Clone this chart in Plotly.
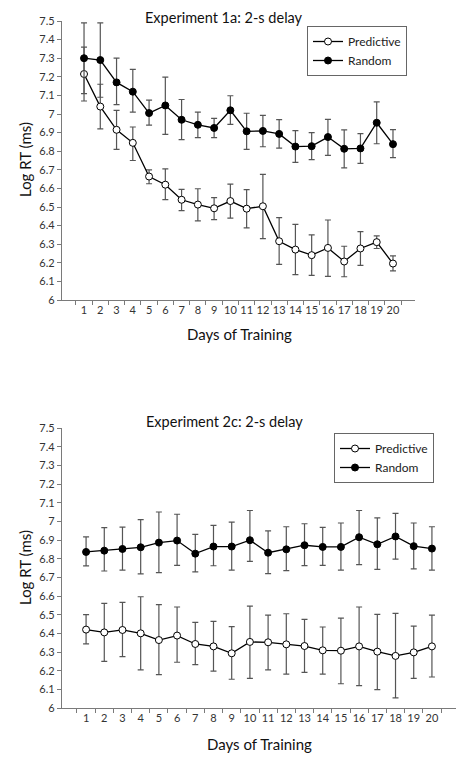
import plotly.graph_objects as go

days = [str(d) for d in range(1, 21)]
y_ticks = [round(6 + 0.1 * i, 1) for i in range(16)]

# Experiment 1a: 2-s delay
exp1_pred_mean = [7.215, 7.04, 6.915, 6.845, 6.664, 6.62, 6.539, 6.513, 6.493, 6.532,
                  6.491, 6.504, 6.316, 6.271, 6.241, 6.28, 6.207, 6.277, 6.311, 6.196]
exp1_pred_upper = [7.36, 7.16, 7.02, 6.93, 6.70, 6.705, 6.595, 6.598, 6.55, 6.623,
                   6.593, 6.675, 6.443, 6.407, 6.35, 6.43, 6.289, 6.368, 6.345, 6.2375]
exp1_pred_lower = [7.07, 6.92, 6.81, 6.75, 6.625, 6.54, 6.48, 6.425, 6.432, 6.44,
                   6.388, 6.33, 6.191, 6.136, 6.132, 6.127, 6.125, 6.186, 6.277, 6.157]
exp1_rand_mean = [7.30, 7.29, 7.17, 7.12, 7.005, 7.046, 6.969, 6.942, 6.925, 7.02,
                  6.907, 6.909, 6.893, 6.825, 6.827, 6.876, 6.813, 6.815, 6.953, 6.838]
exp1_rand_upper = [7.49, 7.49, 7.30, 7.24, 7.075, 7.198, 7.078, 7.01, 6.976, 7.098,
                   7.004, 6.993, 6.97, 6.911, 6.9, 6.971, 6.915, 6.895, 7.065, 6.916]
exp1_rand_lower = [7.11, 7.09, 7.05, 7.01, 6.94, 6.89, 6.862, 6.873, 6.873, 6.944,
                   6.81, 6.824, 6.816, 6.74, 6.755, 6.778, 6.71, 6.735, 6.84, 6.765]

# Experiment 2c: 2-s delay
exp2_pred_mean = [6.42, 6.405, 6.418, 6.40, 6.364, 6.388, 6.343, 6.33, 6.293, 6.354,
                  6.352, 6.341, 6.332, 6.309, 6.307, 6.33, 6.302, 6.279, 6.298, 6.33]
exp2_pred_upper = [6.50, 6.561, 6.566, 6.596, 6.554, 6.541, 6.459, 6.464, 6.436, 6.546,
                   6.498, 6.505, 6.475, 6.434, 6.482, 6.541, 6.502, 6.507, 6.439, 6.498]
exp2_pred_lower = [6.343, 6.25, 6.275, 6.204, 6.179, 6.245, 6.232, 6.198, 6.154, 6.159,
                   6.204, 6.182, 6.191, 6.182, 6.13, 6.12, 6.098, 6.054, 6.159, 6.166]
exp2_rand_mean = [6.836, 6.843, 6.852, 6.861, 6.886, 6.897, 6.827, 6.865, 6.865, 6.899,
                  6.832, 6.85, 6.872, 6.863, 6.863, 6.915, 6.877, 6.919, 6.867, 6.854]
exp2_rand_upper = [6.917, 6.966, 6.969, 7.009, 7.05, 7.038, 6.93, 6.978, 6.996, 7.058,
                   6.949, 6.971, 6.987, 6.968, 6.991, 7.058, 7.018, 7.043, 6.991, 6.971]
exp2_rand_lower = [6.761, 6.734, 6.739, 6.718, 6.725, 6.764, 6.729, 6.762, 6.739, 6.786,
                   6.72, 6.736, 6.7625, 6.764, 6.739, 6.768, 6.743, 6.798, 6.745, 6.739]

FONT = "Lato, 'Open Sans', sans-serif"
W, H = 464, 761
OFF = 8  # page body margin offset of the rendered figure
ERR_COLOR = "#555555"
AX_COLOR = "#7a7a7a"


def px(x):
    return (x - OFF) / W


def py(y):
    return 1 - (y - OFF) / H


def trace(mean, upper, lower, name, filled, xa, ya, legend, show):
    return go.Scatter(
        x=days, y=mean, name=name, mode="lines+markers",
        xaxis=xa, yaxis=ya, legend=legend, showlegend=show,
        line=dict(color="black", width=1.3),
        marker=dict(size=7, symbol="circle",
                    color="black" if filled else "white",
                    line=dict(color="black", width=1)),
        error_y=dict(type="data", symmetric=False,
                     array=[u - m for u, m in zip(upper, mean)],
                     arrayminus=[m - l for m, l in zip(mean, lower)],
                     color=ERR_COLOR, thickness=1.2, width=3),
    )


fig = go.Figure()
fig.add_trace(trace(exp1_pred_mean, exp1_pred_upper, exp1_pred_lower, "Predictive", False, "x", "y", "legend", True))
fig.add_trace(trace(exp1_rand_mean, exp1_rand_upper, exp1_rand_lower, "Random", True, "x", "y", "legend", True))
fig.add_trace(trace(exp2_pred_mean, exp2_pred_upper, exp2_pred_lower, "Predictive", False, "x2", "y2", "legend2", True))
fig.add_trace(trace(exp2_rand_mean, exp2_rand_upper, exp2_rand_lower, "Random", True, "x2", "y2", "legend2", True))


def xaxis(domain, anchor):
    return dict(domain=domain, anchor=anchor, type="category", automargin=False,
                showline=True, linecolor=AX_COLOR, linewidth=1.3,
                ticks="outside", tickson="boundaries", ticklen=4,
                tickcolor=AX_COLOR, tickwidth=1, tickangle=0,
                tickfont=dict(family=FONT, size=11, color="#333333"),
                showgrid=False, zeroline=False, fixedrange=True)


def yaxis(domain, anchor):
    return dict(domain=domain, anchor=anchor, range=[6, 7.5], automargin=False,
                tickvals=y_ticks, ticktext=[("%g" % v) for v in y_ticks],
                showline=True, linecolor=AX_COLOR, linewidth=1.3,
                ticks="outside", ticklen=4, tickcolor=AX_COLOR, tickwidth=1,
                tickfont=dict(family=FONT, size=11, color="#333333"),
                showgrid=False, zeroline=False, fixedrange=True)


legend_common = dict(xanchor="left", yanchor="top", bordercolor="#666666", borderwidth=1,
                     bgcolor="white", font=dict(family=FONT, size=12, color="#222222"),
                     tracegroupgap=0, itemwidth=30)


def ann(text, x, y, angle=0, size=15):
    return dict(text=text, x=px(x), y=py(y), xref="paper", yref="paper",
                xanchor="center", yanchor="middle", textangle=angle, showarrow=False,
                borderpad=0, font=dict(family=FONT, size=size, color="#111111"))


fig.update_layout(
    width=W, height=H, margin=dict(l=0, r=0, t=0, b=0, pad=0, autoexpand=False),
    paper_bgcolor="white", plot_bgcolor="white",
    font=dict(family=FONT, color="#222222"),
    xaxis=xaxis([px(62), px(415)], "y"),
    yaxis=yaxis([py(300), py(21)], "x"),
    xaxis2=xaxis([px(62), px(456)], "y2"),
    yaxis2=yaxis([py(708), py(428)], "x2"),
    legend=dict(x=px(307), y=py(26), **legend_common),
    legend2=dict(x=px(334), y=py(433), **legend_common),
    annotations=[
        ann("Experiment 1a: 2-s delay", 224, 17, size=14.5),
        ann("Experiment 2c: 2-s delay", 224, 422, size=14.5),
        ann("Log RT (ms)", 25, 160, -90),
        ann("Log RT (ms)", 25, 568, -90),
        ann("Days of Training", 239, 334),
        ann("Days of Training", 259, 744),
    ],
)

fig.write_html("out.html")
